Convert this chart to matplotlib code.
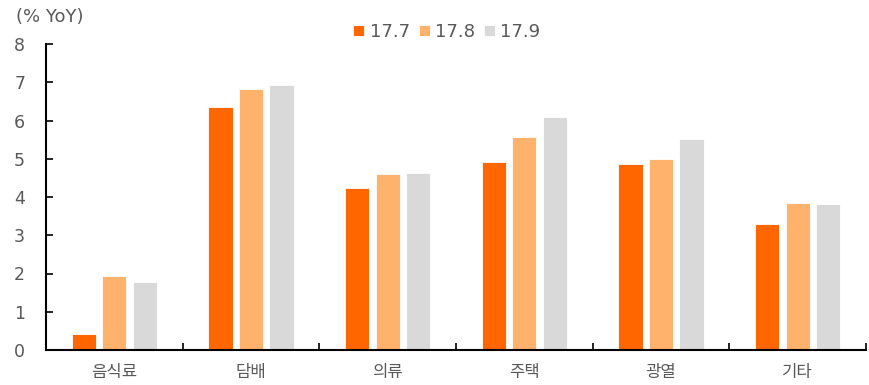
import matplotlib
matplotlib.use("Agg")
import matplotlib.pyplot as plt
import numpy as np

plt.rcParams['font.family'] = ['Noto Sans CJK KR', 'DejaVu Sans']

categories = ['음식료', '담배', '의류', '주택', '광열', '기타']
series_names = ['17.7', '17.8', '17.9']
v177 = [0.43, 6.36, 4.24, 4.91, 4.85, 3.29]
v178 = [1.94, 6.82, 4.59, 5.57, 5.00, 3.85]
v179 = [1.78, 6.93, 4.64, 6.09, 5.52, 3.81]
colors = ['#FF6600', '#FFB26B', '#D9D9D9']

fig = plt.figure(figsize=(8.69, 3.85), dpi=100)
ax = fig.add_axes([46/869, 35/385, 820/869, 306/385])

x = np.arange(len(categories))
w = 0.178
step = 0.223
for i, (vals, c, name) in enumerate(zip([v177, v178, v179], colors, series_names)):
    ax.bar(x + (i - 1) * step, vals, width=w, color=c, edgecolor='white', linewidth=0.6, label=name)

ax.set_xlim(-0.5, len(categories) - 0.5)
ax.set_ylim(0, 8)
ax.set_yticks(range(0, 9))
ax.set_xticks(x)
ax.set_xticklabels(categories)
ax.set_xticks(np.arange(-0.5, len(categories)), minor=True)
ax.tick_params(axis='x', which='major', length=0, pad=10, labelsize=12, labelcolor='#595959')
ax.tick_params(axis='x', which='minor', direction='in', length=5, width=1.2, color='black')
ax.tick_params(axis='y', direction='in', length=5, width=1.2, pad=15, labelsize=12.5, labelcolor='#595959')
for lab in ax.get_yticklabels():
    lab.set_family(['DejaVu Sans'])
for s in ['top', 'right']:
    ax.spines[s].set_visible(False)
for s in ['left', 'bottom']:
    ax.spines[s].set_linewidth(1.5)
    ax.spines[s].set_color('black')

fig.text(16/869, 1 - 17/385, '(% YoY)', fontsize=13, color='#595959', va='center', ha='left',
         family=['DejaVu Sans'])

leg = ax.legend(loc='center', bbox_to_anchor=(447/869, 1 - 32/385), bbox_transform=fig.transFigure,
                ncol=3, frameon=False, handlelength=0.6, handleheight=0.6, handletextpad=0.3,
                columnspacing=0.5, prop={'family': 'DejaVu Sans', 'size': 13})
for t in leg.get_texts():
    t.set_color('#595959')

fig.savefig('out.png', dpi=100)
